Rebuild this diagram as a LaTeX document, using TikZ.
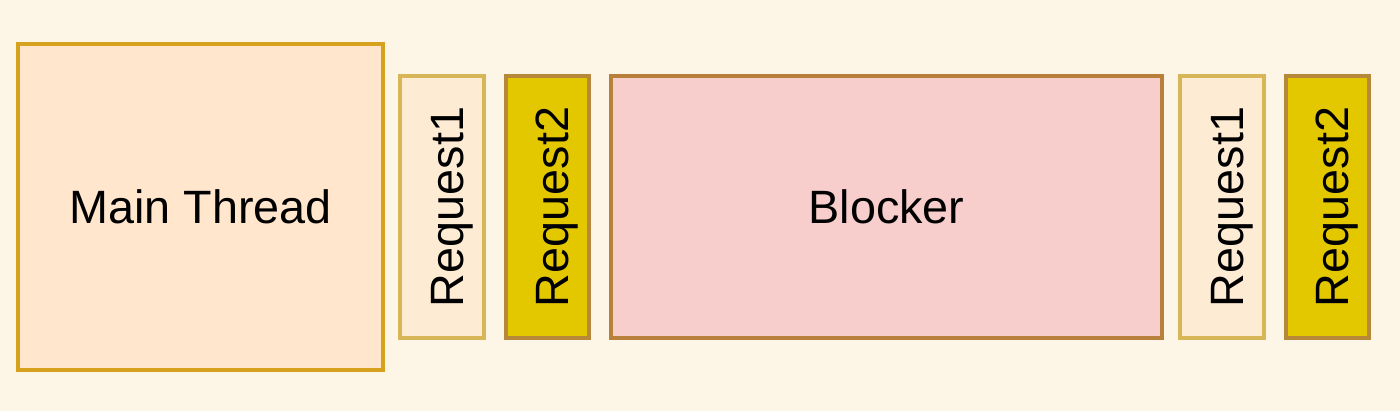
\documentclass[tikz,border=0pt]{standalone}
\usepackage{fontspec}
\setmainfont{Liberation Sans}
\definecolor{bgcream}{HTML}{FDF5E6}
\definecolor{mainfill}{HTML}{FFE6CC}
\definecolor{maindraw}{HTML}{D6A21E}
\definecolor{reqfill}{HTML}{FDEBD3}
\definecolor{reqdraw}{HTML}{D6B656}
\definecolor{goldfill}{HTML}{E3C800}
\definecolor{golddraw}{HTML}{B7873A}
\definecolor{blockfill}{HTML}{F8CECC}
\definecolor{blockdraw}{HTML}{B8803A}
\tikzset{
  box/.style={draw, line width=1.1pt, inner sep=0pt, font=\fontsize{13.3}{16}\selectfont},
  reqbox/.style={box, text height=0.5cm, text depth=0.08cm, rotate=90},
}
\begin{document}
\begin{tikzpicture}
    \fill[bgcream] (0,0) rectangle (14,4.11);
    \useasboundingbox (0,0) rectangle (14,4.11);
    \node[box, draw=maindraw, fill=mainfill, minimum width=3.65cm, minimum height=3.26cm] (main) at (2.005,2.04) {Main Thread};
    \node[reqbox, draw=reqdraw, fill=reqfill, minimum width=2.62cm, minimum height=0.84cm] (reqA) at (4.42,2.04) {Request1};
    \node[reqbox, draw=golddraw, fill=goldfill, minimum width=2.62cm, minimum height=0.83cm] (reqB) at (5.475,2.04) {Request2};
    \node[box, draw=blockdraw, fill=blockfill, minimum width=5.51cm, minimum height=2.62cm] (blocker) at (8.865,2.04) {Blocker};
    \node[reqbox, draw=reqdraw, fill=reqfill, minimum width=2.62cm, minimum height=0.84cm] (reqC) at (12.22,2.04) {Request1};
    \node[reqbox, draw=golddraw, fill=goldfill, minimum width=2.62cm, minimum height=0.83cm] (reqD) at (13.275,2.04) {Request2};
\end{tikzpicture}
\end{document}
